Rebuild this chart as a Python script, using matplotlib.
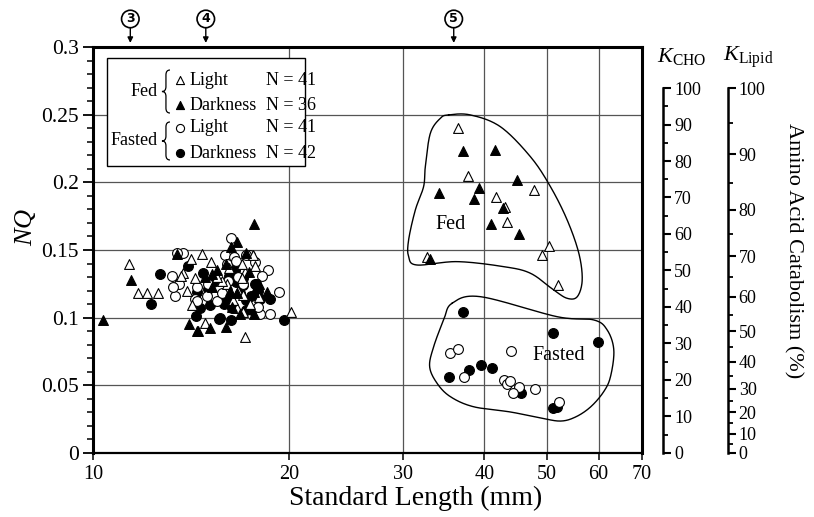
import numpy as np
import matplotlib
matplotlib.use('Agg')
import matplotlib.pyplot as plt
from matplotlib.path import Path
from matplotlib.patches import PathPatch, Rectangle
import matplotlib.ticker as mticker
import matplotlib.transforms as mtrans

plt.rcParams['font.family'] = ['Liberation Serif', 'DejaVu Serif']
plt.rcParams['mathtext.fontset'] = 'custom'
plt.rcParams['mathtext.rm'] = 'Liberation Serif'
plt.rcParams['mathtext.it'] = 'Liberation Serif:italic'

# ---------------- data ----------------
fed_light_x = [36.5, 37.8, 47.7, 41.7, 43.0, 43.3, 50.3, 49.1, 32.7, 51.9,
               11.35, 11.73, 12.11, 12.56, 13.73, 14.13, 13.93, 14.18, 14.69, 20.17,
               17.13, 14.86, 14.34, 16.05, 15.77, 16.73, 17.03, 17.13, 16.93, 17.76,
               16.93, 16.63, 17.03, 15.5, 16.2, 17.6, 18.0, 13.66, 15.2, 16.4, 17.4]
fed_light_y = [0.240, 0.205, 0.194, 0.189, 0.182, 0.171, 0.153, 0.146, 0.145, 0.124,
               0.140, 0.118, 0.118, 0.118, 0.133, 0.143, 0.120, 0.109, 0.147, 0.104,
               0.086, 0.096, 0.129, 0.125, 0.127, 0.120, 0.117, 0.134, 0.140, 0.138,
               0.129, 0.107, 0.104, 0.130, 0.137, 0.146, 0.115, 0.131, 0.141, 0.113, 0.110]

fed_dark_x = [37.06, 41.62, 44.95, 39.23, 34.12, 38.53, 42.71, 41.03, 45.33, 33.04,
              11.44, 10.36, 13.44, 14.06, 14.46, 17.65, 16.63, 16.30, 16.02, 14.51,
              15.12, 15.49, 15.22, 14.86, 15.22, 16.63, 16.24, 17.34, 17.65, 18.50,
              16.34, 16.83, 17.65, 17.2, 16.0, 18.0]
fed_dark_y = [0.223, 0.224, 0.202, 0.196, 0.192, 0.188, 0.181, 0.169, 0.162, 0.143,
              0.128, 0.098, 0.147, 0.095, 0.090, 0.169, 0.156, 0.152, 0.093, 0.090,
              0.092, 0.135, 0.132, 0.130, 0.123, 0.118, 0.120, 0.134, 0.119, 0.119,
              0.108, 0.103, 0.103, 0.148, 0.140, 0.125]

fasted_light_x = [35.48, 36.40, 44.05, 37.19, 42.86, 43.38, 43.90, 45.21, 44.26, 47.97, 52.12,
                  13.73, 13.20, 13.57, 13.36, 13.28, 16.30, 15.96, 16.49, 17.40, 17.71,
                  18.57, 19.35, 18.07, 18.72, 14.95, 14.34, 13.45, 14.46, 16.05, 17.2,
                  14.43, 16.7, 17.0, 15.5, 16.1, 16.6, 15.0, 18.2, 17.9, 15.8]
fasted_light_y = [0.074, 0.077, 0.075, 0.056, 0.054, 0.051, 0.053, 0.049, 0.044, 0.047, 0.038,
                  0.148, 0.131, 0.125, 0.116, 0.123, 0.159, 0.146, 0.145, 0.146, 0.141,
                  0.135, 0.119, 0.103, 0.103, 0.116, 0.114, 0.148, 0.112, 0.140, 0.146,
                  0.123, 0.130, 0.125, 0.112, 0.127, 0.142, 0.125, 0.131, 0.108, 0.118]

fasted_dark_x = [37.06, 51.09, 59.95, 39.61, 41.14, 37.95, 35.35, 45.64, 51.01, 51.69,
                 12.26, 12.67, 14.39, 19.67, 15.67, 16.28, 14.77, 14.43, 15.12, 16.05,
                 17.03, 17.19, 17.76, 17.96, 16.53, 17.03, 18.07, 18.72, 16.34, 17.55,
                 15.6, 17.8, 17.2, 15.3, 16.8, 14.0, 15.0, 16.2, 17.5, 15.9, 14.6, 16.6]
fasted_dark_y = [0.104, 0.089, 0.082, 0.065, 0.063, 0.061, 0.056, 0.044, 0.033, 0.034,
                 0.110, 0.132, 0.101, 0.098, 0.100, 0.098, 0.133, 0.119, 0.109, 0.114,
                 0.124, 0.113, 0.125, 0.120, 0.135, 0.129, 0.114, 0.114, 0.107, 0.106,
                 0.099, 0.125, 0.106, 0.126, 0.118, 0.138, 0.121, 0.131, 0.116, 0.110, 0.107, 0.126]

fed_outline_x = [35.26, 38.08, 42.36, 47.13, 50.59, 53.68, 55.95, 56.62, 55.64, 53.68,
                 51.19, 47.13, 42.86, 36.33, 31.52, 30.59, 30.59, 31.33, 32.26, 32.46, 33.04, 34.23]
fed_outline_y = [0.2498, 0.2498, 0.2411, 0.2189, 0.1968, 0.1722, 0.1476, 0.1278, 0.1155, 0.1143,
                 0.1204, 0.1328, 0.1377, 0.1414, 0.1389, 0.1451, 0.1574, 0.1796, 0.1968, 0.2116, 0.2362, 0.2473]

fasted_outline_x = [35.68, 39.47, 51.82, 59.01, 61.87, 63.34, 62.60, 61.07, 58.32, 55.30, 52.43,
                    48.83, 43.90, 38.50, 35.48, 33.84, 32.96, 33.43, 34.64]
fasted_outline_y = [0.1106, 0.1155, 0.1007, 0.0983, 0.0909, 0.0761, 0.0564, 0.0451, 0.0340, 0.0266, 0.0236,
                    0.0259, 0.0303, 0.0342, 0.0416, 0.0515, 0.0638, 0.0785, 0.0983]

stage_x = [11.4, 14.9, 35.9]
stage_labels = ['3', '4', '5']

x_ticks = [10, 20, 30, 40, 50, 60, 70]
y_ticks = [0, 0.05, 0.1, 0.15, 0.2, 0.25, 0.3]
y_tick_labels = ['0', '0.05', '0.1', '0.15', '0.2', '0.25', '0.3']

k_ticks = [0, 10, 20, 30, 40, 50, 60, 70, 80, 90, 100]
k_minor = [5, 15, 25, 35, 45, 55, 65, 75, 85, 95]

legend_groups = ['Fed', 'Fasted']
legend_rows = ['Light', 'Darkness', 'Light', 'Darkness']
legend_counts = [41, 36, 41, 42]


def klipid_pos(k):
    k = np.asarray(k, dtype=float)
    return 100.0 * k / (200.0 - k)


def smooth_closed(xs, ys, n=24):
    P = np.column_stack([np.log10(xs), ys])
    N = len(P)
    out = []
    t = np.linspace(0, 1, n, endpoint=False)[:, None]
    for i in range(N):
        p0, p1, p2, p3 = P[i - 1], P[i], P[(i + 1) % N], P[(i + 2) % N]
        seg = 0.5 * ((2 * p1) + (-p0 + p2) * t + (2 * p0 - 5 * p1 + 4 * p2 - p3) * t ** 2
                     + (-p0 + 3 * p1 - 3 * p2 + p3) * t ** 3)
        out.append(seg)
    out.append(out[0][:1])
    out = np.vstack(out)
    return 10 ** out[:, 0], out[:, 1]


def brace(ax, x, y0, y1, w, r):
    ym = (y0 + y1) / 2
    xm = x + w / 2
    verts = [(x + w, y1), (xm, y1), (xm, y1 - r), (xm, ym + r), (xm, ym), (x, ym),
             (xm, ym), (xm, ym - r), (xm, y0 + r), (xm, y0), (x + w, y0)]
    codes = [Path.MOVETO, Path.CURVE3, Path.CURVE3, Path.LINETO, Path.CURVE3, Path.CURVE3,
             Path.CURVE3, Path.CURVE3, Path.LINETO, Path.CURVE3, Path.CURVE3]
    ax.add_patch(PathPatch(Path(verts, codes), fc='none', ec='black', lw=0.9,
                           transform=ax.transAxes, zorder=6, clip_on=False))


fig = plt.figure(figsize=(8.14, 5.17), dpi=100)
ax = fig.add_axes([0.1147, 0.1238, 0.674, 0.7853])
ax.set_xscale('log')
ax.set_xlim(10, 70)
ax.set_ylim(0, 0.3)

ax.xaxis.set_major_locator(mticker.FixedLocator(x_ticks))
ax.xaxis.set_major_formatter(mticker.FixedFormatter([str(v) for v in x_ticks]))
ax.xaxis.set_minor_locator(mticker.NullLocator())
ax.set_yticks(y_ticks)
ax.set_yticklabels(y_tick_labels)
ax.yaxis.set_minor_locator(mticker.MultipleLocator(0.01))

ax.grid(True, which='major', color='#555555', lw=0.9)
ax.set_axisbelow(True)
ax.tick_params(axis='both', which='major', direction='out')
ax.tick_params(axis='y', which='major', length=7, width=1.3, labelsize=15.5)
ax.tick_params(axis='y', which='minor', length=4, width=1.1)
ax.tick_params(axis='x', which='major', length=5, width=1.1, pad=4, labelsize=14.5)
for s in ['left', 'top', 'right']:
    ax.spines[s].set_linewidth(2.2)
ax.spines['bottom'].set_linewidth(1.6)

# outlines
fx, fy = smooth_closed(fed_outline_x, fed_outline_y)
ax.plot(fx, fy, color='black', lw=1.0, zorder=2)
gx, gy = smooth_closed(fasted_outline_x, fasted_outline_y)
ax.plot(gx, gy, color='black', lw=1.0, zorder=2)

ms = 50
ax.scatter(fasted_dark_x, fasted_dark_y, s=ms, marker='o', facecolors='black',
           edgecolors='black', linewidths=0.8, zorder=3)
ax.scatter(fasted_light_x, fasted_light_y, s=ms, marker='o', facecolors='white',
           edgecolors='black', linewidths=0.8, zorder=3)
ax.scatter(fed_light_x, fed_light_y, s=ms, marker='^', facecolors='white',
           edgecolors='black', linewidths=0.8, zorder=3)
ax.scatter(fed_dark_x, fed_dark_y, s=ms, marker='^', facecolors='black',
           edgecolors='black', linewidths=0.8, zorder=3)

ax.text(35.5, 0.1685, 'Fed', fontsize=14.5, ha='center', va='center', zorder=4)
ax.text(52.1, 0.0724, 'Fasted', fontsize=14.5, ha='center', va='center', zorder=4)

# stage annotations
blend = mtrans.blended_transform_factory(ax.transData, ax.transAxes)
for sx, sl in zip(stage_x, stage_labels):
    ax.annotate('', xy=(sx, 1.010), xycoords=blend, xytext=(sx, 1.048), textcoords=blend,
                arrowprops=dict(arrowstyle='-|>', lw=1.0, color='black', mutation_scale=8,
                                shrinkA=0, shrinkB=0), annotation_clip=False)
    ax.text(sx, 1.069, sl, transform=blend, ha='center', va='center', fontsize=9,
            fontweight='bold', family='DejaVu Sans', clip_on=False,
            bbox=dict(boxstyle='circle,pad=0.18', fc='white', ec='black', lw=1.2))

# legend box
ax.add_patch(Rectangle((0.0248, 0.7069), 0.3609, 0.2660, transform=ax.transAxes,
                       fc='white', ec='black', lw=1.0, zorder=5))
row_y = [0.9187, 0.8571, 0.8005, 0.7389]
row_marker = ['^', '^', 'o', 'o']
row_fill = ['white', 'black', 'white', 'black']
for ry, lab, cnt, mk, fc in zip(row_y, legend_rows, legend_counts, row_marker, row_fill):
    ax.scatter([0.1579], [ry], s=34, marker=mk, facecolors=fc, edgecolors='black',
               linewidths=0.8, transform=ax.transAxes, zorder=6, clip_on=False)
    ax.text(0.1761, ry, lab, transform=ax.transAxes, fontsize=13, ha='left', va='center', zorder=6)
    ax.text(0.3146, ry, 'N = %d' % cnt, transform=ax.transAxes, fontsize=13, ha='left',
            va='center', zorder=6)
ax.text(0.1177, 0.8904, legend_groups[0], transform=ax.transAxes, fontsize=13,
        ha='right', va='center', zorder=6)
ax.text(0.1177, 0.7685, legend_groups[1], transform=ax.transAxes, fontsize=13,
        ha='right', va='center', zorder=6)
brace(ax, 0.1250, 0.8374, 0.9433, 0.0146, 0.012)
brace(ax, 0.1250, 0.7217, 0.8153, 0.0146, 0.012)

# right-hand K axes
ktop = 100 / 0.899
for pos, ticks, labels, minor in [
        (1.0383, k_ticks, k_ticks, k_minor),
        (1.156, list(klipid_pos(k_ticks)), k_ticks, list(klipid_pos(k_minor)))]:
    a = ax.twinx()
    a.set_ylim(0, ktop)
    for s in ['left', 'top', 'bottom']:
        a.spines[s].set_visible(False)
    a.spines['right'].set_position(('axes', pos))
    a.spines['right'].set_bounds(0, 100)
    a.spines['right'].set_linewidth(1.8)
    a.set_yticks(ticks)
    a.set_yticklabels([str(v) for v in labels])
    a.set_yticks(minor, minor=True)
    a.tick_params(axis='y', which='major', direction='out', length=6, width=1.5,
                  labelsize=13, pad=2)
    a.tick_params(axis='y', which='minor', direction='out', length=3.5, width=1.3)

fig.text(0.837, 0.890, r'$K_{\mathrm{CHO}}$', fontsize=16, ha='center', va='center')
fig.text(0.919, 0.890, r'$K_{\mathrm{Lipid}}$', fontsize=16, ha='center', va='center')
fig.text(0.974, 0.516, 'Amino Acid Catabolism (%)', fontsize=16, rotation=270,
         ha='center', va='center')
fig.text(0.031, 0.561, r'$NQ$', fontsize=19, rotation=90, ha='center', va='center')
fig.text(0.510, 0.035, 'Standard Length (mm)', fontsize=20, ha='center', va='center')

fig.savefig('out.png', dpi=100)
